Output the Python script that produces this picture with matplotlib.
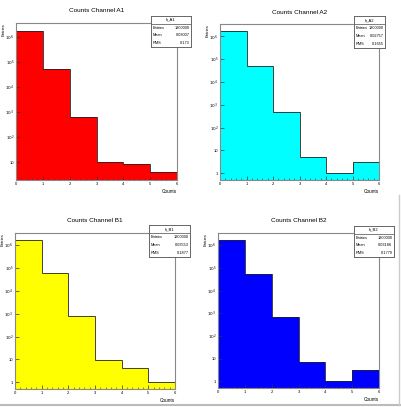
import numpy as np
import matplotlib
matplotlib.use("Agg")
import matplotlib.pyplot as plt
from matplotlib.ticker import FixedLocator, FuncFormatter, MultipleLocator

plt.rcParams['font.family'] = ['Liberation Sans', 'DejaVu Sans']

edges = [0, 1, 2, 3, 4, 5, 6]
titles = ["Counts Channel A1", "Counts Channel A2", "Counts Channel B1", "Counts Channel B2"]
names = ["h_A1", "h_A2", "h_B1", "h_B2"]
colors = ["#ff0000", "#00ffff", "#ffff00", "#0000ff"]
counts_A1 = [1746600, 52700, 650, 10, 9, 4]
counts_A2 = [1750900, 48650, 470, 5, 1, 3]
counts_B1 = [1736900, 62300, 807, 9, 4, 1]
counts_B2 = [1743300, 55980, 664, 7, 1, 3]
entries = ["1800000", "1800000", "1800000", "1800000"]
means = ["0.03007", "0.02757", "0.03553", "0.03186"]
rms = ["0.173", "0.1655", "0.1877", "0.1779"]
all_counts = [counts_A1, counts_A2, counts_B1, counts_B2]

W, H = 401, 407
fig = plt.figure(figsize=(W / 100, H / 100), dpi=100)
fig.patch.set_facecolor("white")

# frame boxes in pixels: left, top, right, bottom
frames = [(16, 23, 177, 180), (220, 24, 379, 180), (15, 233, 175, 389), (218, 233, 379, 388)]
statboxes = [(151, 16, 191, 47), (354, 16, 385, 48), (149, 225, 190, 257), (354, 226, 394, 257)]


def logfmt(v, pos):
    e = int(round(np.log10(v)))
    if e == 0:
        return "1"
    if e == 1:
        return "10"
    return r"$10^{%d}$" % e


for i in range(4):
    l, t, r, b = frames[i]
    ax = fig.add_axes([l / W, 1 - b / H, (r - l) / W, (b - t) / H])
    c = np.array(all_counts[i], dtype=float)
    ymin = c.min() * 0.5
    ymax = c.max() * 2
    ax.set_yscale("log")
    ax.stairs(c, edges, fill=True, baseline=ymin, color=colors[i])
    ax.stairs(c, edges, baseline=ymin, color="#222222", lw=0.6)
    ax.set_xlim(0, 6)
    ax.set_ylim(ymin, ymax)
    for s in ax.spines.values():
        s.set_color("#888888")
        s.set_linewidth(0.8)
    ax.yaxis.set_major_locator(FixedLocator([10.0 ** k for k in range(0, 7)]))
    ax.yaxis.set_major_formatter(FuncFormatter(logfmt))
    ax.yaxis.set_minor_locator(FixedLocator([]))
    ax.xaxis.set_major_locator(MultipleLocator(1))
    ax.xaxis.set_minor_locator(MultipleLocator(0.2))
    ax.tick_params(which="both", direction="in", labelsize=3.0, pad=1.2, color="#333333")
    ax.tick_params(which="major", length=3, width=0.5)
    ax.tick_params(which="minor", length=1.5, width=0.4)
    ax.text(1.0, -0.055, "Counts", transform=ax.transAxes, ha="right", va="top", fontsize=3.4)
    ax.text(-0.075, 1.0, "Entries", transform=ax.transAxes, ha="center", va="top", rotation=90, fontsize=3.0)
    fig.text((l + r) / 2 / W, 1 - (t - 12) / H, titles[i], ha="center", va="center", fontsize=4.6)

    # stats box
    sl, st, sr, sb = statboxes[i]
    bx = fig.add_axes([sl / W, 1 - sb / H, (sr - sl) / W, (sb - st) / H])
    bx.set_xlim(0, 1)
    bx.set_ylim(0, 4)
    bx.set_xticks([])
    bx.set_yticks([])
    for s in bx.spines.values():
        s.set_color("#666666")
        s.set_linewidth(0.7)
    bx.axhline(3, color="#666666", lw=0.6)
    bx.text(0.5, 3.5, names[i], ha="center", va="center", fontsize=3.0)
    rows = [("Entries", entries[i]), ("Mean", means[i]), ("RMS", rms[i])]
    for j, (k, v) in enumerate(rows):
        y = 2.5 - j
        bx.text(0.04, y, k, ha="left", va="center", fontsize=2.8)
        bx.text(0.96, y, v, ha="right", va="center", fontsize=2.8)

# screenshot border lines at right and bottom
fig.add_artist(plt.Line2D([0, 1], [2.5 / H, 2.5 / H], color="#bbbbbb", lw=1.5))
fig.add_artist(plt.Line2D([398.5 / W, 398.5 / W], [2.5 / H, 1 - 195 / H], color="#cccccc", lw=1.0))

fig.savefig("out.png", dpi=100)
